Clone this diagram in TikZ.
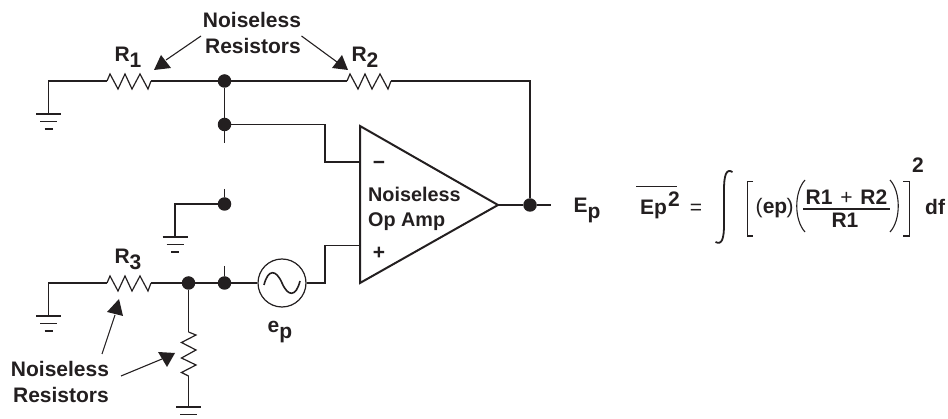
\documentclass[tikz,border=0pt]{standalone}
\usepackage{fontspec}
\setmainfont{Liberation Sans}
\definecolor{ink}{HTML}{231F20}
\tikzset{
  x=1pt,y=-1pt,
  wire/.style={draw=ink,line width=1.2pt,line join=miter},
  dot/.style={circle,fill=ink,inner sep=0pt,minimum size=13.5pt},
  txt/.style={inner sep=0pt,text=ink,font=\fontsize{21}{24}\selectfont\bfseries,anchor=base},
  amptxt/.style={txt,font=\fontsize{19.8}{24}\selectfont\bfseries},
  lead/.style={draw=ink,line width=1.1pt},
  tipfill/.style={fill=ink,draw=none},
  thin part/.style={draw=ink,line width=1.1pt},
  gnd/.pic={\draw[draw=ink,line width=1.2pt] (-12.5,0)--(12.5,0) (-8.5,7.5)--(8.5,7.5) (-4,15)--(4,15);}
}
\newcommand{\subsc}[1]{\raisebox{-6pt}{#1}}
\begin{document}
\begin{tikzpicture}
\useasboundingbox (0,0) rectangle (948,419);
% junctions
\node[dot] (j1) at (224.5,81) {};
\node[dot] (j2) at (224.5,124.5) {};
\node[dot] (j3) at (224.5,204) {};
\node[dot] (j4) at (224.5,283) {};
\node[dot] (j5) at (188.5,283) {};
\node[dot] (j6) at (530,205) {};
\coordinate (t2) at (224.5,143);
\coordinate (t3) at (224.5,189);
\coordinate (t4) at (224.5,266);
\coordinate (g1) at (48.5,114);
\coordinate (g2) at (175,237);
\coordinate (g3) at (48.5,316);
\coordinate (g4) at (188.5,407);
\coordinate (fb) at (530,81);
\coordinate (r1a) at (107,81);
\coordinate (r1b) at (151,81);
\coordinate (r2a) at (347,81);
\coordinate (r2b) at (391,81);
\coordinate (r3a) at (107,283);
\coordinate (r3b) at (151,283);
\coordinate (r4a) at (188.5,332);
\coordinate (r4b) at (188.5,376);
\coordinate (out) at (551,205);
\coordinate (ip) at (360,245.5);
\coordinate (im) at (360,162);
\coordinate (A) at (360,126);
\coordinate (B) at (360,283);
\coordinate (C) at (498,205);
\node[circle,draw=ink,line width=1.2pt,minimum size=48pt,inner sep=0pt] (src) at (282,283) {};
% op amp
\draw[draw=ink,line width=2pt,line join=miter] (A)--(C)--(B)--cycle;
% wires
\draw[wire] (g1)--(48.5,81)--(r1a);
\draw[wire] (r1b)--(j1)--(r2a);
\draw[wire] (r2b)--(fb)--(j6);
\draw[wire] (j1)--(j2)--(t2);
\draw[wire] (j2)--(325,124.5)--(325,162)--(im);
\draw[wire] (t3)--(j3)--(175,204)--(g2);
\draw[wire] (g3)--(48.5,283)--(r3a);
\draw[wire] (r3b)--(j5)--(j4)--(src);
\draw[wire] (t4)--(j4);
\draw[wire] (src)--(325,283)--(325,245.5)--(ip);
\draw[wire] (j5)--(r4a);
\draw[wire] (r4b)--(g4);
\draw[wire] (C)--(j6)--(out);
% resistors
\draw[wire] (r1a)--++(3,-7)--++(8,15)--++(7,-15)--++(7,15)--++(8,-15)--++(8,15)--(r1b);
\draw[wire] (r2a)--++(3,-7)--++(8,15)--++(7,-15)--++(7,15)--++(8,-15)--++(8,15)--(r2b);
\draw[wire] (r3a)--++(3,-7)--++(8,15)--++(7,-15)--++(7,15)--++(8,-15)--++(8,15)--(r3b);
\draw[wire] (r4a)--++(7.5,3)--++(-14.5,7.5)--++(14.5,7.5)--++(-14.5,8)--++(14.5,7)--++(-14.5,7.5)--(r4b);
% grounds
\pic at (g1) {gnd};
\pic at (g2) {gnd};
\pic at (g3) {gnd};
\pic at (g4) {gnd};
% source sine
\draw[draw=ink,line width=1.6pt] (264,285) .. controls (268,269) and (276,269) .. (282,283) .. controls (288,297) and (296,297) .. (300,281);
% callout arrows
\coordinate (a1) at (201,36); \coordinate (a1t) at (154,70);
\draw[lead] (a1)--(166,60);
\draw[tipfill] (a1t)--(161,55)--(171,68)--cycle;
\coordinate (a2) at (301.5,36); \coordinate (a2t) at (348,70);
\draw[lead] (a2)--(337,62);
\draw[tipfill] (a2t)--(342,55)--(332,68)--cycle;
\coordinate (a3) at (102,354); \coordinate (a3t) at (119,299);
\draw[lead] (a3)--(115,315);
\draw[tipfill] (a3t)--(107,312)--(123,316)--cycle;
\coordinate (a4) at (121,376); \coordinate (a4t) at (175,353);
\draw[lead] (a4)--(162,359);
\draw[tipfill] (a4t)--(158,352)--(167,367)--cycle;
% labels
\node[txt] (n1) at (252,28) {Noiseless};
\node[txt] (n2) at (253,54) {Resistors};
\node[txt] (n3) at (60,376.5) {Noiseless};
\node[txt] (n4) at (61,403) {Resistors};
\node[txt] (lr1) at (128,62) {R\subsc{1}};
\node[txt] (lr2) at (365,62) {R\subsc{2}};
\node[txt] (lr3) at (128,264) {R\subsc{3}};
\node[txt] (lep) at (280,333) {e\subsc{p}};
\node[txt] (lm) at (379,170) {\textminus};
\node[amptxt,anchor=base west] (lna) at (368,202) {Noiseless};
\node[amptxt,anchor=base west] (lnb) at (368,227) {Op Amp};
\node[txt] (lp) at (379,260) {+};
\node[txt] (lE) at (587,213) {E\subsc{p}};
% formula
\node[txt,anchor=base west] (fE) at (640,215) {Ep};
\node[txt,anchor=base west] (f2) at (668,207) {2};
\draw[draw=ink,line width=1.4pt] (636,186.5)--(677,186.5);
\node[txt,font=\fontsize{21}{24}\selectfont] (feq) at (696,215) {=};
\draw[draw=ink,line width=1.8pt] (715.5,242) .. controls (722,245.5) and (724,238) .. (724,225) -- (724,190) .. controls (724,176) and (726,168) .. (732.5,172);
\draw[thin part] (753,181.5)--(747.5,181.5)--(747.5,236)--(753,236);
\draw[thin part] (903,181.5)--(909.5,181.5)--(909.5,236)--(903,236);
\node[txt,font=\fontsize{21}{24}\selectfont] (lpa) at (759,214) {(};
\node[txt] (fep) at (775,214) {ep};
\node[txt,font=\fontsize{21}{24}\selectfont] (rpa) at (790,214) {)};
\draw[thin part] (805,180) .. controls (794,192) and (794,220) .. (805,232);
\draw[thin part] (890,180) .. controls (901,192) and (901,220) .. (890,232);
\node[txt] (fnum) at (846.5,205) {R1\hspace{2pt} \textmd{+}\hspace{2pt} R2};
\draw[draw=ink,line width=1.3pt] (803,209)--(890,209);
\node[txt] (fden) at (845,228) {R1};
\node[txt] (fsq) at (918,173) {2};
\node[txt,anchor=base west] (fdf) at (925,215) {df};
\end{tikzpicture}
\end{document}
